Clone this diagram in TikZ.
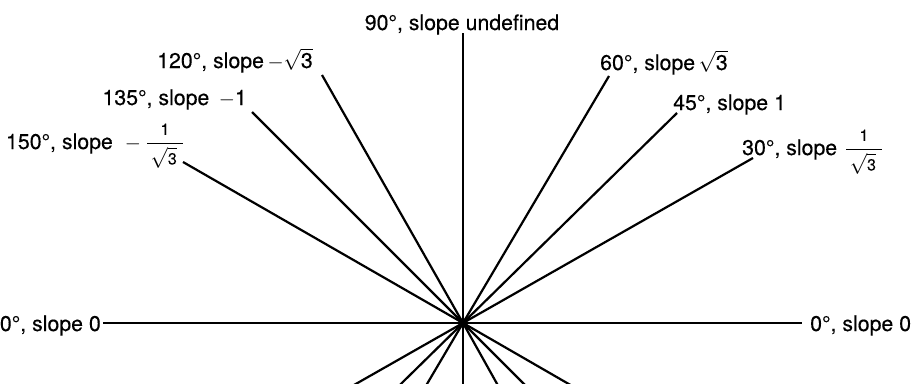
\documentclass[tikz,border=0pt]{standalone}
\usepackage{exscale}
\usepackage{fontspec}
\setmainfont{TeX Gyre Heros}[FakeBold=0.3]
\newcommand{\smalldig}[1]{\mbox{\fontsize{16}{16}\selectfont #1}}
\newcommand{\rootthree}{$\sqrt{\mbox{3}}$}
\newcommand{\invroot}{$\displaystyle\frac{\smalldig{1}}{\,\sqrt{\smalldig{3}}\;}$}
\newcommand{\mns}{$-$}
\begin{document}
\begin{tikzpicture}[x=1pt,y=-1pt,
  ray/.style={line width=2.2pt, black},
  lab/.style={inner sep=0pt, font=\fontsize{21.3}{25}\selectfont}]
\useasboundingbox (0,0) rectangle (915,383);
\coordinate (O) at (463,323);
% labels
\node[lab, anchor=base] (L90) at (462,30) {90°, slope undefined};
\node[lab, anchor=base east] (L120) at (313,68) {120°, slope\,\mns\rootthree};
\node[lab, anchor=base east] (L135) at (247,105) {135°, slope \,\mns1};
\node[lab, anchor=base east] (L150) at (184,149) {150°, slope\hspace{12pt}\mns\hspace{5pt}\invroot};
\node[lab, anchor=base west] (L60) at (600,70) {60°, slope$\,$\rootthree};
\node[lab, anchor=base west] (L45) at (673,110) {45°, slope 1};
\node[lab, anchor=base west] (L30) at (742,155) {30°, slope\hspace{8pt}\invroot};
\node[lab, anchor=base east] (L0l) at (101,331) {0°, slope 0};
\node[lab, anchor=base west] (L0r) at (810,331) {0°, slope 0};
% upper ends of the rays
\coordinate (t90) at (463,33);
\coordinate (t120) at (322,75);
\coordinate (t135) at (252,112);
\coordinate (t150) at (183,162);
\coordinate (t60) at (609,76);
\coordinate (t45) at (677,113);
\coordinate (t30) at (753,158);
\coordinate (hl) at (103,323);
\coordinate (hr) at (802,323);
% lower ends (cut at the bottom edge)
\coordinate (b90) at (463,385);
\coordinate (b120) at (497.7,385);
\coordinate (b135) at (525,385);
\coordinate (b150) at (570.5,385);
\coordinate (b60) at (426.4,385);
\coordinate (b45) at (399.8,385);
\coordinate (b30) at (354,385);
% rays
\draw[ray] (hl) -- (hr);
\draw[ray] (t90) -- (O) -- (b90);
\draw[ray] (t120) -- (O) -- (b120);
\draw[ray] (t135) -- (O) -- (b135);
\draw[ray] (t150) -- (O) -- (b150);
\draw[ray] (t60) -- (O) -- (b60);
\draw[ray] (t45) -- (O) -- (b45);
\draw[ray] (t30) -- (O) -- (b30);
\fill (O) circle[radius=5pt];
\end{tikzpicture}
\end{document}
